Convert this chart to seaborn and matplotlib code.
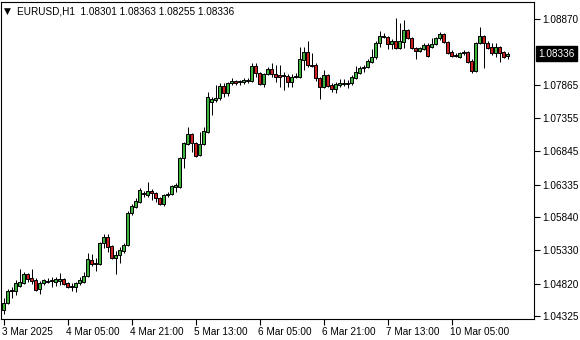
import matplotlib
matplotlib.use("Agg")
import matplotlib.pyplot as plt
import matplotlib.transforms as mtransforms
import seaborn as sns
import numpy as np

# ---- data (EURUSD H1, 3 Mar 2025 13:00 .. 10 Mar 2025 19:00) ----
opens = [1.04418,1.04525,1.04709,1.04709,1.04785,1.04831,1.04969,1.04908,1.04877,1.04739,
 1.04831,1.04846,1.04862,1.04846,1.04862,1.04892,1.04831,1.04785,1.04770,1.04831,
 1.04846,1.04938,1.05183,1.05137,1.05122,1.05443,1.05535,1.05397,1.05214,1.05260,
 1.05321,1.05413,1.05902,1.05994,1.06070,1.06208,1.06178,1.06239,1.06208,1.06132,
 1.06040,1.06178,1.06193,1.06300,1.06300,1.06744,1.06958,1.07111,1.06973,1.06790,
 1.06958,1.07141,1.07600,1.07631,1.07662,1.07845,1.07738,1.07891,1.07922,1.07906,
 1.07906,1.07922,1.07922,1.08151,1.08044,1.07876,1.08029,1.08105,1.08029,1.08014,
 1.07998,1.07998,1.07906,1.07983,1.07983,1.08243,1.08365,1.08167,1.08167,1.07968,
 1.07830,1.08014,1.07861,1.07799,1.07861,1.07876,1.07876,1.07891,1.07968,1.08044,
 1.08121,1.08136,1.08212,1.08289,1.08503,1.08595,1.08595,1.08488,1.08534,1.08427,
 1.08518,1.08702,1.08580,1.08427,1.08381,1.08411,1.08473,1.08442,1.08488,1.08580,
 1.08641,1.08518,1.08365,1.08320,1.08289,1.08350,1.08365,1.08228,1.08075,1.08503,
 1.08610,1.08503,1.08442,1.08350,1.08442,1.08365,1.08301]

highs = [1.04602,1.04739,1.04770,1.04877,1.05045,1.04999,1.04984,1.05045,1.04908,1.04862,
 1.04892,1.04908,1.04923,1.04923,1.04984,1.04908,1.04846,1.04831,1.04846,1.04923,
 1.04999,1.05290,1.05275,1.05214,1.05458,1.05581,1.05581,1.05413,1.05321,1.05382,
 1.05443,1.05933,1.06040,1.06132,1.06285,1.06239,1.06376,1.06269,1.06223,1.06147,
 1.06193,1.06223,1.06331,1.06361,1.06759,1.06988,1.07218,1.07126,1.06988,1.07141,
 1.07218,1.07753,1.07677,1.07861,1.07891,1.07891,1.07906,1.07968,1.07937,1.07937,
 1.07968,1.07968,1.08197,1.08197,1.08059,1.08044,1.08136,1.08197,1.08167,1.08167,
 1.08059,1.08029,1.08029,1.08044,1.08442,1.08442,1.08534,1.08350,1.08197,1.07983,
 1.08090,1.08029,1.07891,1.07906,1.07952,1.07952,1.07937,1.08014,1.08151,1.08151,
 1.08167,1.08258,1.08411,1.08534,1.08687,1.08656,1.08610,1.08564,1.08886,1.08809,
 1.08855,1.08717,1.08595,1.08442,1.08442,1.08503,1.08503,1.08580,1.08595,1.08671,
 1.08656,1.08534,1.08396,1.08350,1.08365,1.08396,1.08381,1.08258,1.08518,1.08748,
 1.08626,1.08534,1.08503,1.08503,1.08457,1.08381,1.08363]

lows = [1.04357,1.04510,1.04602,1.04648,1.04770,1.04816,1.04846,1.04816,1.04709,1.04663,
 1.04801,1.04831,1.04770,1.04785,1.04801,1.04801,1.04755,1.04709,1.04693,1.04801,
 1.04831,1.04923,1.05091,1.05015,1.05107,1.05367,1.05305,1.05198,1.04969,1.05137,
 1.05290,1.05397,1.05872,1.05979,1.06055,1.06147,1.06147,1.06101,1.06070,1.06025,
 1.06009,1.06147,1.06178,1.06223,1.06285,1.06591,1.06943,1.06835,1.06759,1.06774,
 1.06943,1.07126,1.07402,1.07600,1.07631,1.07677,1.07692,1.07861,1.07861,1.07861,
 1.07876,1.07891,1.07906,1.07983,1.07861,1.07830,1.08014,1.07983,1.07906,1.07830,
 1.07784,1.07830,1.07830,1.07968,1.07968,1.08090,1.08136,1.08136,1.07922,1.07646,
 1.07815,1.07830,1.07753,1.07738,1.07830,1.07845,1.07815,1.07861,1.07952,1.08029,
 1.08059,1.08121,1.08197,1.08258,1.08442,1.08580,1.08411,1.08411,1.08411,1.08411,
 1.08427,1.08564,1.08411,1.08258,1.08365,1.08396,1.08289,1.08427,1.08473,1.08549,
 1.08503,1.08335,1.08289,1.08289,1.08274,1.08320,1.08197,1.08044,1.08059,1.08488,
 1.08121,1.08411,1.08320,1.08289,1.08212,1.08274,1.08255]

closes = [1.04525,1.04709,1.04724,1.04831,1.04846,1.04969,1.04892,1.04862,1.04724,1.04831,
 1.04877,1.04862,1.04877,1.04892,1.04892,1.04816,1.04770,1.04770,1.04831,1.04877,
 1.04938,1.05198,1.05122,1.05122,1.05443,1.05535,1.05382,1.05214,1.05260,1.05336,
 1.05413,1.05902,1.06009,1.06086,1.06254,1.06193,1.06239,1.06208,1.06132,1.06040,
 1.06178,1.06193,1.06315,1.06331,1.06744,1.06973,1.07111,1.06973,1.06774,1.06958,
 1.07157,1.07677,1.07646,1.07662,1.07845,1.07738,1.07891,1.07922,1.07891,1.07922,
 1.07937,1.07937,1.08151,1.08044,1.07876,1.08029,1.08105,1.08029,1.07983,1.07983,
 1.08014,1.07906,1.07983,1.07998,1.08258,1.08365,1.08167,1.08151,1.07968,1.07830,
 1.08014,1.07845,1.07799,1.07876,1.07891,1.07891,1.07891,1.07983,1.08059,1.08121,
 1.08136,1.08228,1.08289,1.08503,1.08610,1.08610,1.08488,1.08534,1.08427,1.08534,
 1.08702,1.08580,1.08427,1.08381,1.08427,1.08473,1.08304,1.08488,1.08580,1.08641,
 1.08518,1.08350,1.08304,1.08304,1.08350,1.08365,1.08212,1.08075,1.08503,1.08610,
 1.08503,1.08427,1.08350,1.08442,1.08350,1.08289,1.08336]

time_labels = ["3 Mar 2025", "4 Mar 05:00", "4 Mar 21:00", "5 Mar 13:00",
               "6 Mar 05:00", "6 Mar 21:00", "7 Mar 13:00", "10 Mar 05:00"]
label_every = 16  # bars between time labels
price_ticks = [1.08870, 1.07865, 1.07355, 1.06845, 1.06335,
               1.05840, 1.05330, 1.04820, 1.04325]
symbol = "EURUSD,H1"

# ---- style ----
sns.set_theme(style="white")
plt.rcParams['font.family'] = ['Liberation Sans', 'DejaVu Sans']
FS = 7.2
UP = "#3cb43c"
DOWN = "#cc1e1e"

W, H = 580, 340
fig = plt.figure(figsize=(W / 100, H / 100), dpi=100)
fig.patch.set_facecolor("white")
ax = fig.add_axes([1 / W, 21 / H, 533 / W, 317 / H])
ax.set_facecolor("white")

o = np.array(opens); h = np.array(highs); l = np.array(lows); c = np.array(closes)
x = np.arange(len(o))
up = c >= o
colors = np.where(up, UP, DOWN)

lw = 0.72
ax.vlines(x, l, h, color="black", linewidth=lw, zorder=2)
bottoms = np.minimum(o, c)
heights = np.abs(c - o)
ax.bar(x, heights, bottom=bottoms, width=0.55, color=colors,
       edgecolor="black", linewidth=lw, zorder=3)

ax.set_xlim(-0.625, 132.625)
ax.set_ylim(1.04280, 1.09130)

for sp in ax.spines.values():
    sp.set_color("black")
    sp.set_linewidth(0.8)

# y axis on the right
ax.yaxis.tick_right()
ax.set_yticks(price_ticks)
ax.set_yticklabels([f"{v:.5f}" for v in price_ticks])
ax.tick_params(axis="y", direction="out", length=4, width=0.8, color="black",
               labelsize=FS, pad=2, labelcolor="black", right=True, left=False)

# x axis
xt = [i * label_every for i in range(len(time_labels))]
ax.set_xticks(xt)
ax.set_xticklabels(time_labels)
ax.tick_params(axis="x", direction="out", length=4, width=0.8, color="black",
               labelsize=FS, pad=1.5, labelcolor="black", bottom=True)
offset = mtransforms.ScaledTranslation(-1.5 / 100, 0, fig.dpi_scale_trans)
for lab in ax.get_xticklabels():
    lab.set_horizontalalignment("left")
    lab.set_transform(lab.get_transform() + offset)

# current price label
trans = mtransforms.blended_transform_factory(ax.transAxes, ax.transData)
ax.text(1.0 + 4 / 533, closes[-1], f"{closes[-1]:.5f}", transform=trans,
        ha="left", va="center", fontsize=FS, color="white", clip_on=False,
        bbox=dict(boxstyle="square,pad=0.25", facecolor="black", edgecolor="black"))

# title
fig.text(4 / W, 1 - 11 / H, "▼", fontsize=6.5, ha="left", va="center",
         color="black", family=['DejaVu Sans'])
fig.text(17 / W, 1 - 11 / H,
         f"{symbol}  {opens[-1]:.5f} {highs[-1]:.5f} {lows[-1]:.5f} {closes[-1]:.5f}",
         fontsize=FS, ha="left", va="center", color="black")

fig.savefig("out.png", dpi=100, facecolor="white")
